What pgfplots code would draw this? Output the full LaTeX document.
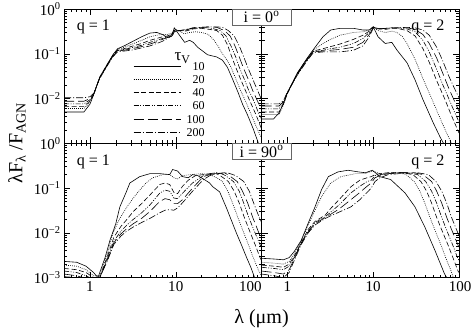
\documentclass[border=0pt]{standalone}
\usepackage{fontspec}
\setmainfont{Liberation Serif}
\usepackage{pgfplots}
\pgfplotsset{compat=1.18}
\usepgfplotslibrary{groupplots}
\usetikzlibrary{calc}

\tikzset{
  t10/.style={black, line width=0.6pt},
  t20/.style={black, line width=0.6pt, dash pattern=on 0.8pt off 1.2pt},
  t40/.style={black, line width=0.6pt, dash pattern=on 5pt off 2.5pt},
  t60/.style={black, line width=0.6pt, dash pattern=on 5pt off 1.5pt on 1pt off 1.5pt on 1pt off 1.5pt},
  t100/.style={black, line width=0.6pt, dash pattern=on 10pt off 4pt},
  t200/.style={black, line width=0.6pt, dash pattern=on 7pt off 2pt on 1pt off 2pt},
}
\newcommand{\tk}[1]{10\textsuperscript{#1}}

\begin{document}
\begin{tikzpicture}
\begin{groupplot}[
  group style={group size=2 by 2, horizontal sep=0pt, vertical sep=0pt},
  width=197pt, height=134pt, scale only axis,
  xmode=log, ymode=log, xmin=0.5, xmax=100, ymin=1e-3, ymax=1,
  xtick={1,10,100},
  minor xtick={0.5,0.6,0.7,0.8,0.9,2,3,4,5,6,7,8,9,20,30,40,50,60,70,80,90},
  ytick={0.001,0.01,0.1,1},
  minor ytick={0.002,0.003,0.004,0.005,0.006,0.007,0.008,0.009,0.02,0.03,0.04,0.05,0.06,0.07,0.08,0.09,0.2,0.3,0.4,0.5,0.6,0.7,0.8,0.9},
  major tick length=6pt, minor tick length=3pt,
  tick align=inside, tick pos=both,
  axis line style={line width=0.6pt}, every tick/.style={black, line width=0.5pt},
  tick label style={font=\fontsize{15}{15}\selectfont},
  label style={font=\fontsize{20}{20}\selectfont},
]
% ---------------- q = 1, i = 0
\nextgroupplot[xticklabels={}, yticklabels={,\tk{−2},\tk{−1},\tk{0}},
  legend style={draw=none, fill=none, at={(rel axis cs:0.35,0.61)}, anchor=north west,
    inner sep=0pt, row sep=4.2pt, font=\fontsize{12}{12}\selectfont,
    nodes={inner sep=0.5pt, text height=8pt, text depth=0pt},
    /tikz/every odd column/.style={column sep=5pt}},
  legend cell align=right,
  legend image code/.code={\draw[#1] (0pt,0pt) -- (47pt,0pt);}]
\addplot[t10] coordinates {(0.5,0.0050)(0.85,0.0050)(1.0,0.0075)(1.1,0.012)(1.3,0.03)(1.58,0.057)(1.85,0.095)(2.1,0.13)(2.5,0.15)(3,0.18)(4,0.24)(5,0.29)(6,0.30)(7,0.27)(8,0.23)(9,0.25)(9.6,0.38)(10.6,0.29)(12.7,0.18)(14.5,0.20)(16,0.18)(18,0.14)(23.5,0.095)(30,0.085)(35,0.072)(40,0.05)(46,0.027)(53,0.014)(60,0.0075)(69,0.0042)(80,0.0021)(92,0.001)(95,0.0008)};
\addlegendentry{10}
\addplot[t20] coordinates {(0.5,0.0060)(0.85,0.0060)(1.0,0.0082)(1.1,0.012)(1.3,0.03)(1.58,0.057)(1.85,0.094)(2.1,0.125)(2.5,0.14)(3,0.16)(4,0.2)(5,0.24)(6,0.26)(7,0.27)(8,0.27)(9,0.29)(9.8,0.36)(11,0.32)(12.5,0.28)(14.5,0.30)(17,0.31)(20,0.30)(24,0.27)(28,0.2)(31,0.15)(35,0.1)(40,0.07)(44,0.05)(50,0.028)(57,0.015)(63,0.01)(75,0.0046)(88,0.0022)(100,0.0013)};
\addlegendentry{20}
\addplot[t40] coordinates {(0.5,0.0067)(0.85,0.0067)(1.0,0.0088)(1.1,0.012)(1.3,0.03)(1.58,0.056)(1.85,0.092)(2.1,0.12)(2.5,0.13)(3,0.145)(4,0.17)(5,0.2)(6,0.22)(7,0.24)(8,0.25)(9,0.28)(9.8,0.34)(11,0.33)(13,0.32)(16,0.36)(20,0.37)(25,0.35)(30,0.33)(35,0.26)(40,0.16)(45,0.085)(50,0.05)(57,0.027)(65,0.015)(71,0.01)(85,0.0046)(100,0.0021)};
\addlegendentry{40}
\addplot[t60] coordinates {(0.5,0.0076)(0.85,0.0076)(1.0,0.0094)(1.1,0.012)(1.3,0.029)(1.58,0.055)(1.85,0.09)(2.1,0.118)(2.5,0.125)(3,0.135)(4,0.155)(5,0.18)(6,0.2)(7,0.22)(8,0.24)(9,0.27)(9.8,0.33)(11,0.33)(13,0.33)(16,0.37)(20,0.38)(25,0.38)(33,0.33)(38.5,0.25)(44,0.15)(50,0.085)(55,0.05)(63,0.027)(71,0.015)(79,0.01)(93,0.0046)(100,0.0035)};
\addlegendentry{60}
\addplot[t100] coordinates {(0.5,0.0087)(0.85,0.0087)(1.0,0.010)(1.1,0.0125)(1.3,0.029)(1.58,0.054)(1.85,0.088)(2.1,0.115)(2.5,0.12)(3,0.128)(4,0.145)(5,0.165)(6,0.185)(7,0.21)(8,0.23)(9,0.26)(9.8,0.32)(11,0.33)(13,0.34)(16,0.38)(20,0.39)(25,0.4)(30,0.39)(37,0.33)(43,0.25)(49,0.15)(55,0.085)(61,0.05)(70,0.027)(79,0.015)(87,0.01)(100,0.0056)};
\addlegendentry{100}
\addplot[t200] coordinates {(0.5,0.0104)(0.85,0.0104)(1.0,0.011)(1.1,0.013)(1.3,0.028)(1.58,0.053)(1.85,0.086)(2.1,0.11)(2.5,0.115)(3,0.12)(4,0.135)(5,0.15)(6,0.17)(7,0.19)(8,0.22)(9,0.25)(9.8,0.31)(11,0.33)(13,0.35)(16,0.38)(20,0.39)(25,0.4)(30,0.4)(35,0.39)(41,0.33)(48,0.25)(55,0.15)(62,0.085)(69,0.05)(79,0.027)(90,0.015)(100,0.0095)};
\addlegendentry{200}
\node[anchor=base west, font=\fontsize{16}{16}\selectfont] at (rel axis cs:0.046,0.843) {q = 1};
\node[font=\fontsize{17}{17}\selectfont] at (rel axis cs:0.6,0.634) {τ\textsubscript{V}};
% ---------------- q = 2, i = 0
\nextgroupplot[xticklabels={}, yticklabels={}]
\addplot[t10] coordinates {(0.5,0.0035)(0.69,0.0035)(0.8,0.0048)(0.9,0.0078)(1.0,0.0135)(1.3,0.037)(1.7,0.08)(2.0,0.123)(2.6,0.24)(3.2,0.34)(4.1,0.37)(5.9,0.37)(7.6,0.34)(9,0.34)(10,0.40)(11.4,0.24)(13.8,0.17)(16.5,0.18)(19,0.12)(24.8,0.063)(30.8,0.026)(38,0.0095)(50,0.0029)(60,0.0014)(66,0.001)(70,0.0008)};
\addplot[t20] coordinates {(0.5,0.0044)(0.8,0.0044)(0.9,0.0072)(1.0,0.013)(1.3,0.036)(1.7,0.078)(2.0,0.12)(2.6,0.17)(3.2,0.21)(4.1,0.26)(5.9,0.30)(7.6,0.31)(9,0.34)(10,0.40)(11.4,0.33)(13.8,0.30)(16.5,0.32)(19,0.3)(22,0.24)(24.8,0.17)(30.8,0.075)(38,0.028)(48,0.01)(60,0.0037)(70,0.0019)(80,0.0011)(86,0.0008)};
\addplot[t40] coordinates {(0.5,0.005)(0.8,0.005)(0.9,0.0075)(1.0,0.013)(1.3,0.036)(1.7,0.077)(2.0,0.115)(2.6,0.13)(3.2,0.145)(4.1,0.165)(5.9,0.21)(7.6,0.26)(9,0.32)(10,0.40)(11.4,0.36)(13.8,0.35)(16.5,0.37)(19,0.37)(24.8,0.33)(30.8,0.25)(38,0.13)(45,0.065)(55,0.025)(68,0.01)(80,0.0046)(100,0.0017)};
\addplot[t60] coordinates {(0.5,0.0059)(0.8,0.0059)(0.9,0.008)(1.0,0.013)(1.3,0.035)(1.7,0.075)(2.0,0.112)(2.6,0.12)(3.2,0.13)(4.1,0.14)(5.9,0.17)(7.6,0.22)(9,0.30)(10,0.39)(11.4,0.37)(13.8,0.37)(16.5,0.38)(19,0.38)(24.8,0.36)(30.8,0.31)(38,0.2)(45,0.11)(55,0.045)(65,0.02)(76,0.01)(90,0.0047)(100,0.003)};
\addplot[t100] coordinates {(0.5,0.0068)(0.8,0.0068)(0.9,0.0085)(1.0,0.0135)(1.3,0.034)(1.7,0.073)(2.0,0.11)(2.6,0.115)(3.2,0.12)(4.1,0.125)(5.9,0.14)(7.6,0.18)(9,0.27)(10,0.38)(11.4,0.37)(13.8,0.37)(16.5,0.38)(19,0.38)(24.8,0.38)(30.8,0.35)(38,0.27)(45,0.17)(55,0.08)(65,0.036)(76,0.017)(86,0.01)(100,0.0052)};
\addplot[t200] coordinates {(0.5,0.0076)(0.8,0.0076)(0.9,0.009)(1.0,0.014)(1.3,0.033)(1.7,0.07)(2.0,0.105)(2.6,0.11)(3.2,0.11)(4.1,0.11)(5.9,0.12)(7.6,0.15)(9,0.24)(10,0.37)(11.4,0.36)(13.8,0.37)(16.5,0.38)(19,0.38)(24.8,0.39)(30.8,0.38)(38,0.34)(45,0.26)(55,0.14)(65,0.068)(76,0.032)(86,0.019)(100,0.0104)};
\node[anchor=base east, font=\fontsize{16}{16}\selectfont] at (rel axis cs:0.944,0.843) {q = 2};
% ---------------- q = 1, i = 90
\nextgroupplot[xticklabels={1,10,\makebox[0pt][r]{100}}, yticklabels={\tk{−3},\tk{−2},\tk{−1},\tk{0}}]
\addplot[t10] coordinates {(0.5,0.0023)(0.7,0.0022)(0.9,0.0018)(1.1,0.0013)(1.24,0.001)(1.5,0.0028)(1.71,0.0068)(2.0,0.016)(2.23,0.038)(2.6,0.075)(2.92,0.13)(3.8,0.18)(5,0.21)(6.5,0.21)(8.5,0.2)(9.2,0.26)(10.5,0.24)(12,0.18)(14,0.17)(15.7,0.2)(18,0.19)(21,0.16)(24.8,0.13)(27,0.107)(32.5,0.082)(39,0.036)(45,0.018)(51,0.0098)(58,0.0055)(67,0.0028)(75,0.0017)(83,0.001)(88,0.0008)};
\addplot[t20] coordinates {(0.5,0.0019)(0.7,0.0018)(0.9,0.0015)(1.1,0.0011)(1.3,0.0011)(1.6,0.0035)(1.85,0.0098)(2.2,0.02)(2.7,0.038)(3.2,0.06)(3.8,0.09)(4.5,0.13)(5.4,0.17)(7.1,0.2)(8.5,0.2)(9.5,0.17)(10.5,0.16)(12,0.19)(15,0.2)(20,0.21)(25,0.2)(30,0.17)(35,0.14)(40,0.09)(46,0.046)(53,0.022)(62,0.01)(71,0.0052)(80,0.0028)(93,0.0014)(100,0.0011)};
\addplot[t40] coordinates {(0.5,0.0016)(0.7,0.0015)(0.9,0.0013)(1.1,0.001)(1.3,0.001)(1.6,0.003)(1.9,0.008)(2.3,0.014)(2.7,0.02)(3.2,0.03)(4,0.045)(5,0.07)(6.5,0.12)(7.5,0.13)(8.5,0.12)(9.5,0.08)(10.5,0.075)(12,0.11)(14,0.15)(17,0.19)(21,0.2)(25,0.21)(29.6,0.21)(33,0.19)(41,0.14)(48,0.085)(55,0.046)(63,0.022)(74,0.01)(85,0.0052)(96,0.0028)(100,0.0024)};
\addplot[t60] coordinates {(0.5,0.0014)(0.7,0.0013)(0.9,0.0011)(1.1,0.0009)(1.3,0.001)(1.6,0.0027)(1.9,0.0065)(2.3,0.011)(2.7,0.015)(3.2,0.02)(4,0.028)(5,0.042)(6.5,0.077)(7.5,0.09)(8.5,0.085)(9.5,0.06)(10.5,0.058)(12,0.077)(15.7,0.13)(21,0.19)(25,0.21)(30,0.22)(34,0.21)(38,0.19)(47,0.14)(55,0.085)(62,0.046)(71,0.022)(84,0.01)(97,0.0052)(100,0.0046)};
\addplot[t100] coordinates {(0.5,0.0012)(0.7,0.0011)(0.9,0.00095)(1.1,0.0008)(1.3,0.001)(1.6,0.0025)(1.9,0.006)(2.3,0.0095)(2.7,0.0125)(3.2,0.016)(4,0.021)(5,0.03)(6.5,0.05)(7.5,0.058)(8.5,0.055)(9.5,0.045)(10.5,0.045)(12,0.055)(15.7,0.1)(21,0.18)(25,0.2)(30,0.21)(37,0.22)(42,0.19)(52,0.14)(60,0.085)(69,0.046)(79,0.022)(93,0.01)(100,0.0072)};
\addplot[t200] coordinates {(0.5,0.00105)(0.7,0.001)(0.9,0.00085)(1.1,0.0007)(1.3,0.001)(1.6,0.0024)(1.9,0.0055)(2.3,0.0085)(2.7,0.011)(3.2,0.0135)(4,0.017)(5,0.021)(6.5,0.028)(7.5,0.032)(8.5,0.033)(9.5,0.032)(10.5,0.036)(12,0.047)(15.7,0.085)(21,0.155)(25,0.19)(30,0.21)(40,0.22)(50,0.19)(62,0.14)(72,0.085)(81,0.046)(94,0.022)(100,0.017)};
\node[anchor=base west, font=\fontsize{16}{16}\selectfont] at (rel axis cs:0.046,0.835) {q = 1};
% ---------------- q = 2, i = 90
\nextgroupplot[xticklabels={1,10,\makebox[0pt][l]{\hspace{-10pt}100}}, yticklabels={}]
\addplot[t10] coordinates {(0.5,0.0027)(0.7,0.0026)(0.9,0.0025)(1.05,0.0028)(1.2,0.0038)(1.45,0.0068)(1.75,0.0165)(2.1,0.038)(2.5,0.092)(3.0,0.18)(3.9,0.23)(5.1,0.25)(6.7,0.23)(8.1,0.22)(9.8,0.25)(12,0.18)(16,0.155)(23.5,0.078)(30.7,0.038)(40,0.0135)(52.6,0.004)(68,0.0012)(72,0.001)(76,0.0008)};
\addplot[t20] coordinates {(0.5,0.0022)(0.7,0.0021)(0.9,0.002)(1.05,0.0023)(1.2,0.0033)(1.45,0.0065)(1.75,0.015)(2.1,0.032)(2.5,0.064)(3.2,0.13)(4.2,0.18)(5.5,0.2)(6.2,0.21)(8,0.21)(9.8,0.24)(12,0.21)(16,0.22)(20,0.22)(24.3,0.2)(30,0.14)(35,0.085)(40,0.046)(46,0.022)(54,0.01)(62,0.0052)(70,0.0028)(81,0.0014)(86,0.001)(90,0.0008)};
\addplot[t40] coordinates {(0.5,0.0019)(0.7,0.0018)(0.9,0.0017)(1.05,0.002)(1.2,0.003)(1.45,0.006)(1.75,0.012)(2.1,0.018)(2.77,0.025)(3.2,0.035)(4,0.055)(5.5,0.107)(7,0.15)(8.5,0.17)(9.5,0.18)(10.5,0.2)(12,0.21)(15,0.22)(22,0.22)(29,0.2)(36,0.14)(42,0.085)(48,0.046)(55,0.022)(65,0.01)(75,0.0052)(85,0.0028)(97.5,0.0014)(100,0.0013)};
\addplot[t60] coordinates {(0.5,0.0017)(0.7,0.0016)(0.9,0.0015)(1.05,0.0018)(1.2,0.0028)(1.45,0.006)(1.75,0.011)(2.1,0.017)(2.77,0.023)(3.2,0.029)(4,0.042)(5.5,0.078)(7,0.11)(8.5,0.14)(9.5,0.15)(10.5,0.19)(12,0.2)(15,0.21)(20,0.22)(25,0.22)(33,0.2)(41,0.14)(48,0.085)(55,0.046)(63,0.022)(74,0.01)(85,0.0052)(96,0.0028)(100,0.0024)};
\addplot[t100] coordinates {(0.5,0.0014)(0.7,0.0013)(0.9,0.0012)(1.05,0.0015)(1.2,0.0026)(1.45,0.0058)(1.75,0.0105)(2.1,0.016)(2.77,0.022)(3.2,0.026)(4,0.034)(5.5,0.055)(7,0.08)(8.5,0.11)(9.5,0.13)(10.5,0.17)(12,0.19)(15,0.21)(20,0.22)(30,0.22)(38,0.2)(48,0.14)(55,0.085)(63,0.046)(72,0.022)(85,0.01)(98,0.0052)(100,0.0048)};
\addplot[t200] coordinates {(0.5,0.0012)(0.7,0.0011)(0.9,0.001)(1.05,0.0013)(1.2,0.0024)(1.45,0.0055)(1.75,0.01)(2.1,0.015)(2.77,0.021)(3.2,0.024)(4,0.029)(5.5,0.038)(7,0.055)(8.5,0.08)(9.5,0.1)(10.5,0.14)(12,0.17)(15,0.2)(20,0.21)(33,0.22)(44,0.2)(54,0.14)(63,0.085)(72,0.046)(82,0.022)(97,0.01)(100,0.0088)};
\node[anchor=base east, font=\fontsize{16}{16}\selectfont] at (rel axis cs:0.944,0.835) {q = 2};
\end{groupplot}
% panel labels and axis titles
\node[anchor=north, draw=black!60, fill=white, line width=0.5pt, minimum width=59pt, minimum height=16pt, inner sep=1pt, font=\fontsize{16}{16}\selectfont] at (group c1r1.north east) {i = 0\textsuperscript{o}};
\node[anchor=north, draw=black!60, fill=white, line width=0.5pt, minimum width=59pt, minimum height=16pt, inner sep=1pt, font=\fontsize{16}{16}\selectfont] at (group c1r2.north east) {i = 90\textsuperscript{o}};
\node[rotate=90, font=\fontsize{20}{20}\selectfont] at ($(group c1r1.south west)+(-47pt,0pt)$) {λF\textsubscript{λ} /F\textsubscript{AGN}};
\node[font=\fontsize{20}{20}\selectfont] at ($(group c1r2.south east)+(0pt,-41pt)$) {λ (μm)};
\pgfresetboundingbox
\path[use as bounding box] ($(group c1r1.north west)+(-64pt,9pt)$) rectangle ($(group c2r2.south east)+(12pt,-57pt)$);
\end{tikzpicture}
\end{document}
